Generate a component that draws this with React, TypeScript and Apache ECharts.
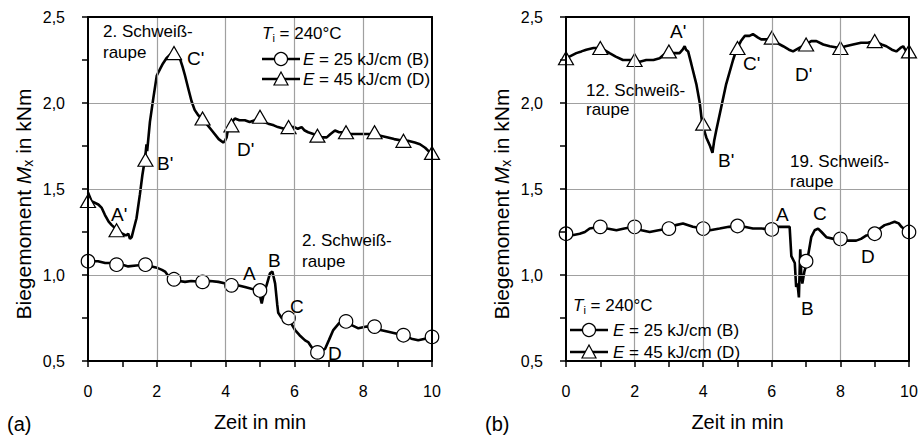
import React, { useEffect, useRef } from 'react';
import * as echarts from 'echarts';

const FONT = '"Liberation Sans", Arial, Helvetica, sans-serif';

// ---------- Data: panel (a) ----------
const aLineD: [number, number][] = [
  [0, 1.48], [0.1, 1.43], [0.3, 1.41], [0.4, 1.39], [0.49, 1.35], [0.6, 1.31], [0.69, 1.29], [0.8, 1.27],
  [0.88, 1.25], [1.0, 1.24], [1.1, 1.23], [1.17, 1.24], [1.22, 1.21], [1.27, 1.22], [1.32, 1.26], [1.41, 1.33],
  [1.51, 1.47], [1.58, 1.58], [1.66, 1.68], [1.7, 1.76], [1.72, 1.72], [1.8, 1.89], [1.9, 2.03], [2.0, 2.16],
  [2.1, 2.2], [2.18, 2.23], [2.28, 2.26], [2.38, 2.28], [2.53, 2.29], [2.67, 2.26], [2.75, 2.21], [2.82, 2.16],
  [2.92, 2.08], [3.01, 2.01], [3.1, 1.96], [3.2, 1.93], [3.3, 1.91], [3.4, 1.89], [3.6, 1.84], [3.8, 1.79],
  [3.93, 1.77], [3.98, 1.78], [4.03, 1.8], [4.08, 1.86], [4.15, 1.88], [4.27, 1.91], [4.4, 1.9], [4.56, 1.9],
  [4.7, 1.89], [4.85, 1.9], [5.0, 1.91], [5.1, 1.89], [5.24, 1.88], [5.4, 1.87], [5.52, 1.86], [5.7, 1.85],
  [5.82, 1.86], [6.0, 1.86], [6.1, 1.85], [6.21, 1.86], [6.3, 1.84], [6.4, 1.83], [6.55, 1.82], [6.65, 1.81],
  [6.8, 1.8], [6.94, 1.8], [7.05, 1.82], [7.18, 1.84], [7.3, 1.83], [7.47, 1.83], [7.6, 1.82], [7.86, 1.82],
  [8.0, 1.82], [8.28, 1.82], [8.5, 1.81], [8.72, 1.8], [8.9, 1.79], [9.16, 1.78], [9.3, 1.78], [9.5, 1.77],
  [9.65, 1.76], [9.8, 1.74], [9.9, 1.72], [10, 1.71],
];
const aMarkD: [number, number][] = [
  [0, 1.43], [0.83, 1.26], [1.67, 1.67], [2.5, 2.29], [3.33, 1.91], [4.17, 1.87], [5.0, 1.92],
  [5.83, 1.86], [6.67, 1.81], [7.5, 1.83], [8.33, 1.83], [9.17, 1.78], [10, 1.71],
];
const aLineB: [number, number][] = [
  [0, 1.09], [0.15, 1.08], [0.29, 1.08], [0.5, 1.07], [0.83, 1.07], [1.0, 1.06], [1.17, 1.05], [1.4, 1.055],
  [1.66, 1.06], [1.85, 1.05], [2.03, 1.04], [2.15, 1.03], [2.24, 1.02], [2.35, 0.99], [2.48, 0.975], [2.65, 0.965],
  [2.82, 0.96], [3.0, 0.965], [3.3, 0.96], [3.55, 0.965], [3.79, 0.96], [4.0, 0.95], [4.17, 0.94], [4.35, 0.94],
  [4.56, 0.93], [4.75, 0.92], [4.97, 0.91], [5.02, 0.86], [5.05, 0.835], [5.12, 0.9], [5.19, 0.94], [5.29, 1.01],
  [5.36, 1.02], [5.44, 0.95], [5.5, 0.83], [5.53, 0.78], [5.63, 0.75], [5.8, 0.75], [5.9, 0.72], [6.02, 0.68],
  [6.15, 0.65], [6.31, 0.62], [6.4, 0.61], [6.5, 0.58], [6.68, 0.555], [6.8, 0.56], [6.89, 0.57], [7.0, 0.62],
  [7.13, 0.68], [7.3, 0.72], [7.49, 0.73], [7.65, 0.71], [7.86, 0.69], [8.1, 0.7], [8.33, 0.7], [8.5, 0.68],
  [8.73, 0.67], [8.95, 0.66], [9.17, 0.65], [9.4, 0.63], [9.6, 0.62], [9.8, 0.63], [10, 0.64],
];
const aMarkB: [number, number][] = [
  [0, 1.08], [0.83, 1.06], [1.67, 1.06], [2.5, 0.975], [3.33, 0.96], [4.17, 0.94], [5.0, 0.91],
  [5.83, 0.75], [6.67, 0.55], [7.5, 0.73], [8.33, 0.7], [9.17, 0.65], [10, 0.64],
];

// ---------- Data: panel (b) ----------
const bLineD: [number, number][] = [
  [0, 2.25], [0.1, 2.27], [0.3, 2.29], [0.45, 2.3], [0.59, 2.31], [0.8, 2.32], [0.98, 2.32], [1.1, 2.31],
  [1.27, 2.29], [1.45, 2.27], [1.66, 2.25], [1.97, 2.25], [2.15, 2.24], [2.34, 2.25], [2.55, 2.25], [2.73, 2.26],
  [2.85, 2.28], [3.0, 2.3], [3.15, 2.29], [3.31, 2.29], [3.4, 2.31], [3.46, 2.33], [3.5, 2.31], [3.56, 2.3],
  [3.65, 2.23], [3.8, 2.11], [3.9, 2.0], [3.97, 1.88], [4.09, 1.8], [4.2, 1.75], [4.27, 1.71], [4.32, 1.78],
  [4.38, 1.84], [4.53, 1.98], [4.67, 2.11], [4.87, 2.25], [4.97, 2.31], [5.1, 2.36], [5.21, 2.39], [5.35, 2.39],
  [5.45, 2.4], [5.6, 2.38], [5.69, 2.37], [5.85, 2.37], [5.99, 2.38], [6.15, 2.35], [6.33, 2.33], [6.5, 2.31],
  [6.62, 2.3], [6.8, 2.32], [6.99, 2.34], [7.15, 2.36], [7.3, 2.36], [7.5, 2.34], [7.69, 2.33], [7.98, 2.32],
  [8.15, 2.33], [8.37, 2.34], [8.6, 2.35], [8.8, 2.35], [9.0, 2.36], [9.2, 2.34], [9.34, 2.33], [9.5, 2.31],
  [9.63, 2.3], [9.75, 2.32], [9.83, 2.33], [9.92, 2.3], [10, 2.29],
];
const bMarkD: [number, number][] = [
  [0, 2.26], [1, 2.32], [2, 2.25], [3, 2.3], [4, 1.88], [5, 2.32], [6, 2.38], [7, 2.34], [8, 2.32], [9, 2.36], [10, 2.3],
];
const bLineB: [number, number][] = [
  [0, 1.24], [0.15, 1.23], [0.4, 1.24], [0.55, 1.25], [0.69, 1.27], [0.98, 1.28], [1.2, 1.27], [1.47, 1.26],
  [1.7, 1.27], [1.98, 1.28], [2.2, 1.26], [2.44, 1.25], [2.7, 1.26], [3.0, 1.27], [3.2, 1.29], [3.41, 1.3],
  [3.7, 1.28], [3.99, 1.27], [4.2, 1.26], [4.48, 1.27], [4.75, 1.28], [4.99, 1.285], [5.2, 1.28], [5.45, 1.27],
  [5.7, 1.27], [5.99, 1.265], [6.2, 1.28], [6.42, 1.28], [6.52, 1.28], [6.57, 1.11], [6.67, 1.07], [6.71, 0.93],
  [6.75, 0.95], [6.79, 0.87], [6.83, 1.15], [6.86, 1.0], [6.89, 0.95], [6.95, 1.02], [7.03, 1.08], [7.15, 1.22],
  [7.25, 1.26], [7.35, 1.27], [7.45, 1.25], [7.59, 1.22], [7.8, 1.21], [8.0, 1.21], [8.2, 1.2], [8.46, 1.2],
  [8.6, 1.21], [8.76, 1.23], [9.0, 1.24], [9.15, 1.27], [9.29, 1.29], [9.45, 1.3], [9.58, 1.31], [9.7, 1.3],
  [9.78, 1.28], [9.9, 1.26], [10, 1.25],
];
const bMarkB: [number, number][] = [
  [0, 1.24], [1, 1.28], [2, 1.28], [3, 1.27], [4, 1.27], [5, 1.285], [6, 1.265], [7, 1.08], [8, 1.21], [9, 1.24], [10, 1.25],
];

const X_MIN = 0, X_MAX = 10, X_STEP = 2;
const Y_MIN = 0.5, Y_MAX = 2.5, Y_STEP = 0.5;
const xTitle = 'Zeit in min';
const yTitle = '{n|Biegemoment }{i|M}{s|x}{n| in kNm}';
const legendTemp = '{i|T}{s|i}{n| = 240°C}';
const legendB = '{i|E}{n| = 25 kJ/cm (B)}';
const legendD = '{i|E}{n| = 45 kJ/cm (D)}';

const richText = (size: number) => ({
  n: { fontFamily: FONT, fontSize: size, color: '#000', fill: '#000', lineHeight: size + 3 },
  i: { fontFamily: FONT, fontSize: size, fontStyle: 'italic', color: '#000', fill: '#000', lineHeight: size + 3 },
  s: { fontFamily: FONT, fontSize: Math.round(size * 0.65), color: '#000', fill: '#000', lineHeight: 8, verticalAlign: 'bottom' },
});

function txt(x: number, y: number, text: string, size: number) {
  return {
    type: 'text', x, y, silent: true, z: 50,
    style: { text, fontFamily: FONT, fontSize: size, fill: '#000', verticalAlign: 'middle', align: 'left' },
  };
}
function rtxt(x: number, y: number, text: string, size: number, align = 'left', rotation = 0) {
  return {
    type: 'text', x, y, rotation, silent: true, z: 50,
    style: { text, fontFamily: FONT, fontSize: size, fill: '#000', verticalAlign: 'middle', align, rich: richText(size) },
  };
}
function legendLine(x1: number, x2: number, y: number, kind: 'circle' | 'triangle') {
  const cx = (x1 + x2) / 2;
  const els: any[] = [
    { type: 'line', silent: true, z: 50, shape: { x1, y1: y, x2, y2: y }, style: { stroke: '#000', lineWidth: 2.5 } },
  ];
  if (kind === 'circle') {
    els.push({ type: 'circle', silent: true, z: 51, shape: { cx, cy: y, r: 6.5 }, style: { fill: '#fff', stroke: '#000', lineWidth: 1.2 } });
  } else {
    els.push({
      type: 'polygon', silent: true, z: 51,
      shape: { points: [[cx - 7, y + 6], [cx + 7, y + 6], [cx, y - 7]] },
      style: { fill: '#fff', stroke: '#000', lineWidth: 1.2 },
    });
  }
  return els;
}

const fmtY = (v: number) => v.toFixed(1).replace('.', ',');

function mainX(gi: number) {
  return {
    type: 'value', gridIndex: gi, min: X_MIN, max: X_MAX, interval: X_STEP, position: 'bottom',
    name: xTitle, nameLocation: 'middle', nameGap: 51,
    nameTextStyle: { fontFamily: FONT, fontSize: 20, color: '#000' },
    axisLine: { show: true, onZero: false, lineStyle: { color: '#000', width: 2 } },
    axisTick: { show: true, inside: false, length: 6, lineStyle: { color: '#000', width: 1.5 } },
    minorTick: { show: true, splitNumber: 2, length: 6, lineStyle: { color: '#000', width: 1.5 } },
    axisLabel: { show: true, margin: 22, fontFamily: FONT, fontSize: 16, color: '#000' },
    splitLine: { show: true, showMinLine: false, showMaxLine: false, lineStyle: { color: '#a0a0a0', width: 1.2 } },
    z: 5,
  };
}
function frameX(gi: number) {
  return {
    type: 'value', gridIndex: gi, min: X_MIN, max: X_MAX, interval: X_STEP, position: 'top',
    axisLine: { show: true, onZero: false, lineStyle: { color: '#000', width: 2 } },
    axisTick: { show: false }, axisLabel: { show: false }, splitLine: { show: false }, z: 6,
  };
}
function mainY(gi: number) {
  return {
    type: 'value', gridIndex: gi, min: Y_MIN, max: Y_MAX, interval: Y_STEP, position: 'left',
    axisLine: { show: true, onZero: false, lineStyle: { color: '#000', width: 2 } },
    axisTick: { show: true, inside: false, length: 6, lineStyle: { color: '#000', width: 1.5 } },
    minorTick: { show: true, splitNumber: 2, length: 6, lineStyle: { color: '#000', width: 1.5 } },
    axisLabel: { show: true, margin: 23, fontFamily: FONT, fontSize: 16, color: '#000', formatter: fmtY },
    splitLine: { show: true, showMinLine: false, showMaxLine: false, lineStyle: { color: '#a0a0a0', width: 1.2 } },
    z: 5,
  };
}
function frameY(gi: number) {
  return {
    type: 'value', gridIndex: gi, min: Y_MIN, max: Y_MAX, interval: Y_STEP, position: 'right',
    axisLine: { show: true, onZero: false, lineStyle: { color: '#000', width: 2 } },
    axisTick: { show: false }, axisLabel: { show: false }, splitLine: { show: false }, z: 6,
  };
}

function lineSeries(idx: number, data: [number, number][]) {
  return {
    type: 'line', xAxisIndex: idx, yAxisIndex: idx, data, showSymbol: false, symbol: 'none',
    lineStyle: { color: '#000', width: 2.6 }, z: 3, silent: true,
  };
}
function markSeries(idx: number, data: [number, number][], symbol: string) {
  return {
    type: 'scatter', xAxisIndex: idx, yAxisIndex: idx, data, symbol,
    symbolSize: symbol === 'circle' ? 13.5 : [15, 13],
    itemStyle: { color: '#fff', borderColor: '#000', borderWidth: 1.2, opacity: 1 }, z: 4, silent: true,
  };
}

export default function App() {
  const ref = useRef<HTMLDivElement>(null);
  useEffect(() => {
    if (!ref.current) return;
    const chart = echarts.init(ref.current, undefined, { renderer: 'svg' });
    const graphic: any[] = [
      // axis titles (y)
      rtxt(23, 204, yTitle, 21, 'center', Math.PI / 2),
      rtxt(501, 204, yTitle, 21, 'center', Math.PI / 2),
      // panel (a)
      txt(103, 31, '2. Schweiß-', 17), txt(103, 52, 'raupe', 17),
      rtxt(262, 33, legendTemp, 17),
      ...legendLine(262, 300, 59, 'circle'), rtxt(303, 59, legendB, 17),
      ...legendLine(262, 300, 79, 'triangle'), rtxt(303, 79, legendD, 17),
      txt(111, 214, "A'", 19), txt(157, 163, "B'", 19), txt(187, 58, "C'", 19), txt(237, 149, "D'", 19),
      txt(243, 273, 'A', 19), txt(268, 260, 'B', 19), txt(290, 306, 'C', 19), txt(328, 353, 'D', 19),
      txt(302, 240, '2. Schweiß-', 17), txt(302, 261, 'raupe', 17),
      txt(7, 424, '(a)', 20),
      // panel (b)
      txt(670, 31, "A'", 19), txt(718, 160, "B'", 19), txt(743, 63, "C'", 19), txt(795, 74, "D'", 19),
      txt(586, 90, '12. Schweiß-', 17), txt(586, 109, 'raupe', 17),
      txt(790, 161, '19. Schweiß-', 17), txt(790, 181, 'raupe', 17),
      txt(776, 214, 'A', 19), txt(813, 213, 'C', 19), txt(801, 308, 'B', 19), txt(861, 256, 'D', 19),
      rtxt(573, 305, legendTemp, 17),
      ...legendLine(570, 608, 330, 'circle'), rtxt(613, 330, legendB, 17),
      ...legendLine(570, 608, 352, 'triangle'), rtxt(613, 352, legendD, 17),
      txt(485, 424, '(b)', 20),
    ];
    chart.setOption({
      animation: false,
      backgroundColor: '#fff',
      grid: [
        { left: 88, top: 17, width: 344, height: 344, containLabel: false },
        { left: 566, top: 17, width: 343, height: 344, containLabel: false },
      ],
      xAxis: [mainX(0), mainX(1), frameX(0), frameX(1)],
      yAxis: [mainY(0), mainY(1), frameY(0), frameY(1)],
      series: [
        lineSeries(0, aLineD), lineSeries(0, aLineB),
        markSeries(0, aMarkD, 'triangle'), markSeries(0, aMarkB, 'circle'),
        lineSeries(1, bLineD), lineSeries(1, bLineB),
        markSeries(1, bMarkD, 'triangle'), markSeries(1, bMarkB, 'circle'),
      ],
      graphic,
    });
    return () => chart.dispose();
  }, []);
  return <div ref={ref} style={{ position: 'fixed', left: 0, top: 0, width: 921, height: 438, background: '#fff' }} />;
}
